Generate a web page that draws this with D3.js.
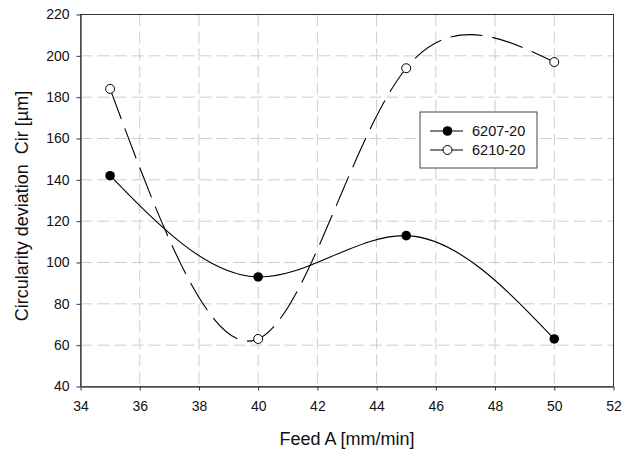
<!DOCTYPE html>
<html>
<head>
<meta charset="utf-8">
<script src="https://cdn.jsdelivr.net/npm/d3@7"></script>
<style>
  body { margin: 0; background: #fff; }
  text { font-family: "Liberation Sans", Arial, sans-serif; }
</style>
</head>
<body>
<div id="graph-container"></div>
<script>

/////////////////////////////////////////////////////////////////////////////
                      ///////    Data    ///////
/////////////////////////////////////////////////////////////////////////////

var feed = [35, 40, 45, 50];
var cir_6207 = [142, 93, 113, 63];
var cir_6210 = [184, 63, 194, 197];
var series_names = ['6207-20', '6210-20'];
var x_ticks = [34, 36, 38, 40, 42, 44, 46, 48, 50, 52];
var y_ticks = [40, 60, 80, 100, 120, 140, 160, 180, 200, 220];

/////////////////////////////////////////////////////////////////////////////
                      ///////    Set Up Chart    ///////
/////////////////////////////////////////////////////////////////////////////

var W = 635, H = 455;
var margin = {top: 14.5, right: 21.5, bottom: 68.5, left: 80.5};

var svg = d3.select('#graph-container').append('svg')
    .attr('width', W).attr('height', H);

var x = d3.scaleLinear().domain([34, 52]).range([margin.left, W - margin.right]);
var y = d3.scaleLinear().domain([40, 220]).range([H - margin.bottom, margin.top]);

var grid_color = '#cdcdcd';

// grid lines
svg.append('g').selectAll('line').data(x_ticks.slice(1, -1)).join('line')
    .attr('x1', d => x(d)).attr('x2', d => x(d))
    .attr('y1', y(220)).attr('y2', y(40))
    .attr('stroke', grid_color).attr('stroke-width', 1)
    .attr('stroke-dasharray', '12,5');

svg.append('g').selectAll('line').data(y_ticks.slice(1, -1)).join('line')
    .attr('x1', x(34)).attr('x2', x(52))
    .attr('y1', d => y(d)).attr('y2', d => y(d))
    .attr('stroke', grid_color).attr('stroke-width', 1)
    .attr('stroke-dasharray', '12,5');

// frame
svg.append('rect')
    .attr('x', x(34)).attr('y', y(220))
    .attr('width', x(52) - x(34)).attr('height', y(40) - y(220))
    .attr('fill', 'none').attr('stroke', '#333').attr('stroke-width', 1);

// axes
var x_axis = svg.append('g')
    .attr('transform', `translate(0,${y(40)})`)
    .call(d3.axisBottom(x).tickValues(x_ticks).tickSize(4).tickSizeOuter(0).tickPadding(11));

var y_axis = svg.append('g')
    .attr('transform', `translate(${x(34)},0)`)
    .call(d3.axisLeft(y).tickValues(y_ticks).tickSize(4).tickSizeOuter(0).tickPadding(7));

[x_axis, y_axis].forEach(a => {
    a.select('.domain').attr('stroke', '#555').attr('stroke-width', 1.5);
    a.selectAll('.tick line').attr('stroke', '#333');
    a.selectAll('.tick text').attr('font-size', 14).attr('fill', '#111')
        .attr('font-family', '"Liberation Sans", Arial, sans-serif');
});

// axis titles
svg.append('text')
    .attr('x', x(43)).attr('y', 445)
    .attr('text-anchor', 'middle')
    .attr('font-size', 18)
    .attr('fill', '#111')
    .text('Feed A [mm/min]');

svg.append('text')
    .attr('transform', 'translate(28,206) rotate(-90)')
    .attr('text-anchor', 'middle')
    .attr('font-size', 18)
    .attr('fill', '#111')
    .style('white-space', 'pre')
    .text('Circularity deviation  Cir [µm]');

/////////////////////////////////////////////////////////////////////////////
                      ///////    Spline curve    ///////
/////////////////////////////////////////////////////////////////////////////

// natural cubic spline, parametric, knots spaced by chord length ^ power
function splineCurve(power) {
    return function(context) {
        var pts;
        return {
            areaStart() {}, areaEnd() {},
            lineStart() { pts = []; },
            point(px, py) { pts.push([+px, +py]); },
            lineEnd() {
                var n = pts.length - 1;
                var h = [];
                for (var i = 0; i < n; i++) {
                    h.push(Math.pow(Math.hypot(pts[i+1][0] - pts[i][0], pts[i+1][1] - pts[i][1]), power));
                }
                function second(k) {
                    var M = new Array(n + 1).fill(0);
                    if (n < 2) return M;
                    var a = [], b = [], c = [], r = [];
                    for (var i = 1; i < n; i++) {
                        a.push(h[i-1]); b.push(2 * (h[i-1] + h[i])); c.push(h[i]);
                        r.push(6 * ((pts[i+1][k] - pts[i][k]) / h[i] - (pts[i][k] - pts[i-1][k]) / h[i-1]));
                    }
                    var m = b.length;
                    for (var i = 1; i < m; i++) {
                        var w = a[i] / b[i-1];
                        b[i] -= w * c[i-1];
                        r[i] -= w * r[i-1];
                    }
                    var sol = new Array(m);
                    sol[m-1] = r[m-1] / b[m-1];
                    for (var i = m - 2; i >= 0; i--) sol[i] = (r[i] - c[i] * sol[i+1]) / b[i];
                    for (var i = 0; i < m; i++) M[i+1] = sol[i];
                    return M;
                }
                var MM = [second(0), second(1)];
                context.moveTo(pts[0][0], pts[0][1]);
                for (var i = 0; i < n; i++) {
                    var hi = h[i];
                    var d0 = [0, 1].map(k => (pts[i+1][k] - pts[i][k]) / hi - hi * (2 * MM[k][i] + MM[k][i+1]) / 6);
                    var d1 = [0, 1].map(k => (pts[i+1][k] - pts[i][k]) / hi + hi * (MM[k][i] + 2 * MM[k][i+1]) / 6);
                    context.bezierCurveTo(pts[i][0] + hi * d0[0] / 3, pts[i][1] + hi * d0[1] / 3,
                                          pts[i+1][0] - hi * d1[0] / 3, pts[i+1][1] - hi * d1[1] / 3,
                                          pts[i+1][0], pts[i+1][1]);
                }
            }
        };
    };
}

/////////////////////////////////////////////////////////////////////////////
                      ///////    Series    ///////
/////////////////////////////////////////////////////////////////////////////

var line = d3.line().x(d => x(d[0])).y(d => y(d[1])).curve(splineCurve(0.25));

var s1 = feed.map((f, i) => [f, cir_6207[i]]);
var s2 = feed.map((f, i) => [f, cir_6210[i]]);

svg.append('path').datum(s2).attr('d', line)
    .attr('fill', 'none').attr('stroke', '#000').attr('stroke-width', 1.1)
    .attr('stroke-dasharray', '32,10');

svg.append('path').datum(s1).attr('d', line)
    .attr('fill', 'none').attr('stroke', '#000').attr('stroke-width', 1.1);

svg.append('g').selectAll('circle').data(s1).join('circle')
    .attr('cx', d => x(d[0])).attr('cy', d => y(d[1])).attr('r', 4.8)
    .attr('fill', '#000');

svg.append('g').selectAll('circle').data(s2).join('circle')
    .attr('cx', d => x(d[0])).attr('cy', d => y(d[1])).attr('r', 4.5)
    .attr('fill', '#fff').attr('stroke', '#000').attr('stroke-width', 1);

/////////////////////////////////////////////////////////////////////////////
                      ///////    Legend    ///////
/////////////////////////////////////////////////////////////////////////////

var legend = svg.append('g').attr('transform', 'translate(420,112)');

legend.append('rect')
    .attr('x', 0).attr('y', 0).attr('width', 117).attr('height', 56)
    .attr('fill', '#fff').attr('stroke', '#444').attr('stroke-width', 1);

series_names.forEach((name, i) => {
    var row = legend.append('g').attr('transform', `translate(0,${19 + i * 19})`);
    row.append('line').attr('x1', 10).attr('x2', 43).attr('stroke', '#000').attr('stroke-width', 1);
    row.append('circle').attr('cx', 27.5).attr('r', i === 0 ? 4.8 : 4.5)
        .attr('fill', i === 0 ? '#000' : '#fff').attr('stroke', '#000').attr('stroke-width', i === 0 ? 0 : 1);
    row.append('text').attr('x', 52).attr('dy', '0.35em')
        .attr('font-size', 14.5).attr('fill', '#111').text(name);
});

</script>
</body>
</html>
